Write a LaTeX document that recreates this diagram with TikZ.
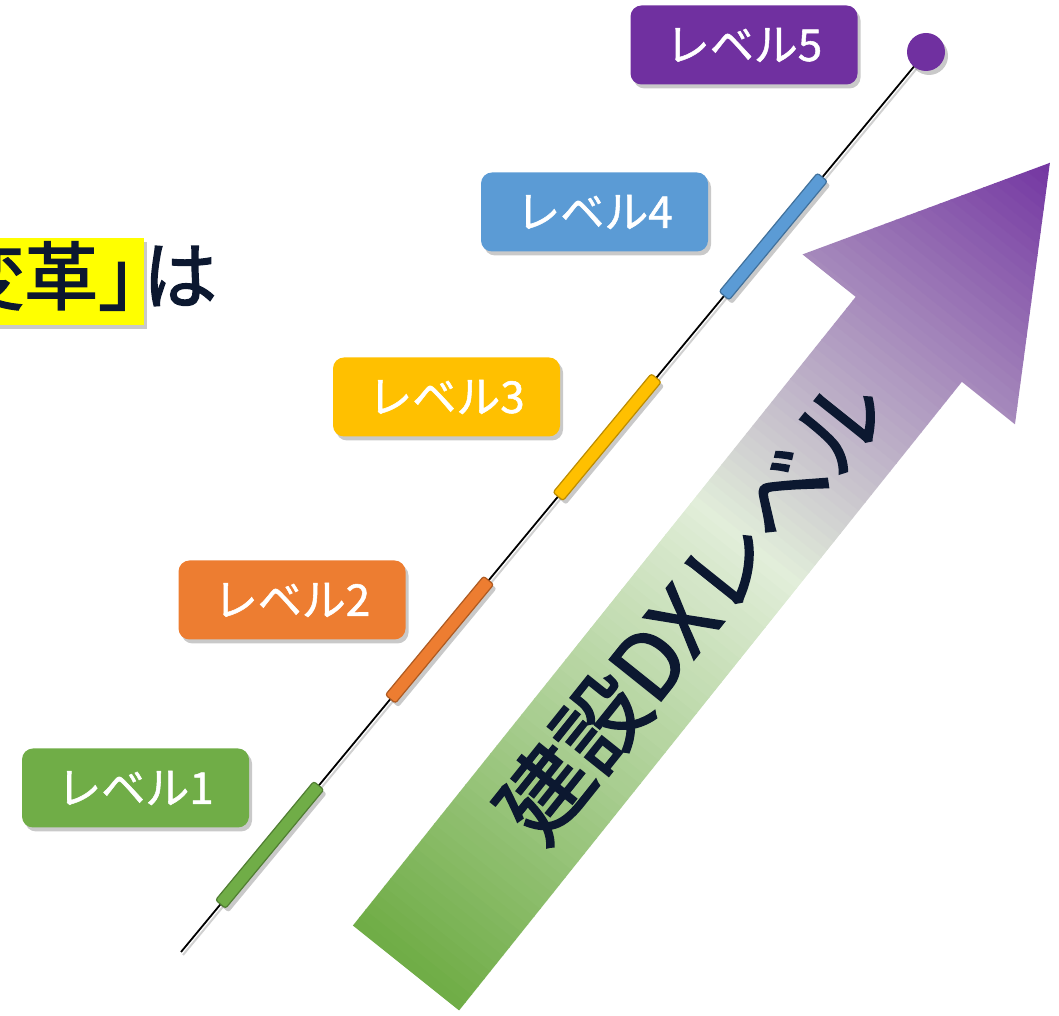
\documentclass[tikz,border=0pt]{standalone}
\usepackage{fontspec}
\newfontfamily\jp[FakeBold=1.2]{Noto Sans CJK JP}
\newfontfamily\jpb[FakeBold=2]{Noto Sans CJK JP}
\usetikzlibrary{shadows,calc}
\definecolor{lvgreen}{HTML}{70AD47}
\definecolor{lvgreend}{HTML}{507E32}
\definecolor{lvorange}{HTML}{ED7D31}
\definecolor{lvoranged}{HTML}{AE5A21}
\definecolor{lvyellow}{HTML}{FFC000}
\definecolor{lvyellowd}{HTML}{BC8C00}
\definecolor{lvblue}{HTML}{5B9BD5}
\definecolor{lvblued}{HTML}{41719C}
\definecolor{lvpurple}{HTML}{7030A0}
\definecolor{dxlight}{HTML}{E2EEDA}
\definecolor{navytext}{HTML}{0C1830}
\definecolor{hlyellow}{HTML}{FFFF00}
\tikzset{
  softshadow/.style={drop shadow={shadow xshift=3pt,shadow yshift=-4pt,opacity=0.3,fill=black!70}},
  lvlbox/.style={rounded corners=11pt, minimum width=227pt, minimum height=79pt,
    inner sep=0pt, text=white, font=\jp\fontsize{44}{50}\selectfont, softshadow},
  barbox/.style={rounded corners=2.5pt, minimum width=154pt, minimum height=13pt,
    inner sep=0pt, line width=1.2pt, rotate=50.38, softshadow},
  bigtext/.style={font=\jpb\fontsize{74}{80}\selectfont, inner sep=0pt, text=navytext},
  dxtext/.style={rotate=51.35, font=\jpb\fontsize{90}{92}\selectfont, inner sep=0pt, text=navytext},
}
\begin{document}
\begin{tikzpicture}[x=1pt,y=1pt]
\useasboundingbox (0,0) rectangle (1059,1016);

% big gradient arrow
\begin{scope}[shift={(406,48)}, rotate=51.35]
  \clip (0,-68) -- (805,-68) -- (805,-136) -- (1031,0) -- (805,136) -- (805,68) -- (0,68) -- cycle;
  \foreach \i in {0,...,104}{
    \pgfmathsetmacro{\xa}{\i*10}
    \ifnum\i<54
      \pgfmathtruncatemacro{\mixp}{\i*100/54}
      \colorlet{stripc}{dxlight!\mixp!lvgreen}
    \else
      \pgfmathtruncatemacro{\mixp}{(\i-54)*100/50}
      \colorlet{stripc}{lvpurple!\mixp!dxlight}
    \fi
    \fill[stripc] (\xa,-140) rectangle ++(11,280);
  }
\end{scope}
\node[dxtext] (dx) at (692,408) {建設DXレベル};

% timeline
\coordinate (A) at (181,64);
\coordinate (C) at (926,964);
\draw[line width=2pt, black!30, opacity=0.6] ([shift={(2,-3)}]A) -- ([shift={(2,-3)}]C);
\draw[line width=1.8pt, black] (A) -- (C);
\node[barbox, fill=lvgreen, draw=lvgreend] (b1) at ($(A)!0.119!(C)$) {};
\node[barbox, fill=lvorange, draw=lvoranged] (b2) at ($(A)!0.347!(C)$) {};
\node[barbox, fill=lvyellow, draw=lvyellowd] (b3) at ($(A)!0.572!(C)$) {};
\node[barbox, fill=lvblue, draw=lvblued] (b4) at ($(A)!0.795!(C)$) {};
\node[circle, fill=lvpurple, minimum size=38pt, inner sep=0pt, softshadow] (top) at (C) {};

% level boxes
\node[lvlbox, fill=lvgreen] (l1) at (135.5,228) {レベル1};
\node[lvlbox, fill=lvorange] (l2) at (292,416) {レベル2};
\node[lvlbox, fill=lvyellow] (l3) at (446.5,619) {レベル3};
\node[lvlbox, fill=lvblue] (l4) at (594.5,804) {レベル4};
\node[lvlbox, fill=lvpurple] (l5) at (744,971) {レベル5};

% top-left text
\fill[hlyellow, softshadow] (-8,691) rectangle (144,778);
\node[bigtext, anchor=west] (h) at (-50,740) {変革」};
\node[bigtext] (ha) at (180,740) {は};
\end{tikzpicture}
\end{document}
